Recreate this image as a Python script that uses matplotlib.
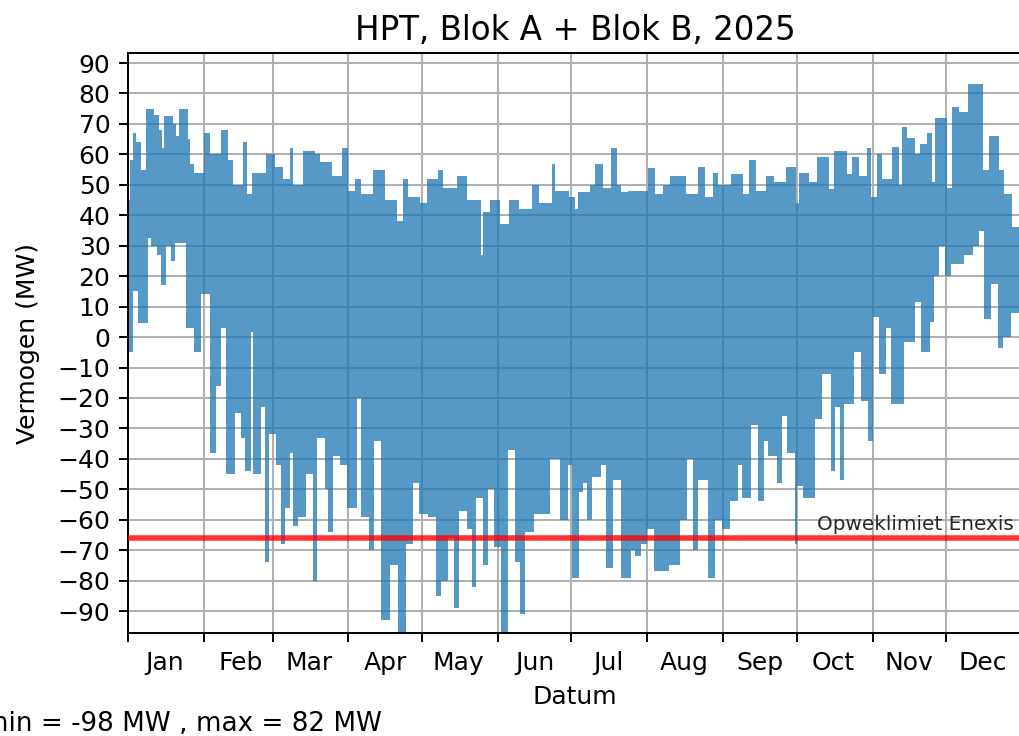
import datetime as dt
import numpy as np
import matplotlib
matplotlib.use("Agg")
import matplotlib.pyplot as plt
import matplotlib.dates as mdates
from matplotlib.ticker import NullFormatter

# bovenkant van het signaal: (dag van het jaar, MW)
hi_day = [0, 1, 2, 3.3, 5.3, 7.4, 10.8, 12.8, 13.8, 14.9, 18.3, 19.5, 21, 24.4, 25.5, 27.1,
          31, 33.3, 36.7, 38.1, 40.8, 42.8, 46.9, 48.5, 50.5, 56.5, 59.9, 63.3, 66, 67.4,
          71.5, 76.2, 78.3, 83.1, 87.2, 89.9, 92.6, 95.3, 100.1, 104.9, 109.7, 112.4, 114.4,
          119.2, 121.9, 126.7, 128.8, 134.2, 138.3, 144, 144.8, 147.9, 152, 155.4, 159.5,
          164.9, 167.6, 173.1, 174.5, 180, 182.4, 183.8, 188.5, 190.6, 194, 197.4, 199.5,
          201.3, 204, 212.3, 215.2, 218.4, 221.1, 227.9, 232.6, 235.5, 238.7, 240.7, 246.2,
          250.9, 253.6, 256.3, 260.4, 263.8, 268.5, 272.6, 274, 278, 281.4, 286.2, 288.2,
          293.6, 295.7, 298.4, 301.8, 303.4, 305.8, 307.9, 311.9, 314.6, 316, 318, 321.4,
          323.5, 326.2, 328.2, 329.6, 334.3, 336.3, 339.1, 343.1, 349.2, 351.5, 355.5,
          357.5, 360.8]
hi_val = [45, 58, 67, 64, 55, 75, 73, 68, 62, 72.5, 70, 66, 75, 65, 57, 54,
          67, 60, 60, 68, 58, 50, 64, 47, 54, 60, 56, 52, 62, 50,
          61, 60, 57.5, 53, 62, 48, 52, 47, 55, 45, 38, 52, 46,
          44, 52, 55, 49, 53, 45, 27, 41, 45, 37, 45, 42,
          50, 44, 57, 48, 46, 42, 47.5, 50, 57, 49, 62, 50,
          47.5, 48, 55.5, 47, 50, 53, 47, 56, 46, 54, 50, 53.5,
          47, 58, 48, 53, 51, 56, 44, 54, 51, 59, 48.5, 61,
          53.5, 59, 53, 62, 46, 60, 52, 62.5, 50, 69, 65.5, 60,
          63.5, 67, 51, 72, 49, 75.5, 74, 83, 55, 66, 55,
          47, 36]

# onderkant van het signaal
lo_day = [0, 1.9, 4.2, 8, 9.4, 12, 13.5, 15.5, 17.6, 19, 23.7, 27.1, 29.9, 33.3, 36, 38.1,
          40.1, 43.5, 46.2, 47.6, 50.3, 51, 54.4, 55.8, 57.4, 60.6, 62.6, 64, 66, 67.4,
          69.4, 72.8, 75.6, 77.3, 80.3, 81.7, 83.7, 86.5, 89.6, 93.3, 95.3, 98.3, 100.5,
          103.3, 106.9, 110.3, 113.3, 116.2, 118.9, 122.6, 125.8, 127.8, 130.5, 133.3,
          135.3, 138.3, 140.4, 142.1, 144.9, 146.9, 149.6, 152.4, 155.1, 157.8, 159.9,
          161.9, 165.6, 172.4, 176.5, 179.7, 181.1, 184.1, 185.8, 187.2, 189.5, 193.3,
          195, 198, 201.2, 205.2, 206.8, 209.3, 212, 214.7, 220.7, 225.2, 228.3, 230.8,
          232.9, 237, 239.7, 242.4, 245.9, 249.2, 250.5, 254.3, 257.4, 259.5, 261.5, 264.9,
          266.9, 269.2, 272.2, 273.3, 275.7, 280.3, 283.2, 286.9, 288.6, 290.6, 292.5,
          296.6, 299.3, 302, 304, 306.8, 309.6, 311.7, 317, 321.2, 323.7, 327.3, 328.9,
          331.3, 333.4, 336.1, 341.5, 344.9, 347.5, 349.6, 352.3, 355.1, 357.1, 360.5]
lo_val = [-5, 15, 4.5, 32.5, 30, 27, 17, 30, 25, 31, 3, -5, 14, -38, -16, 3,
          -45, -25, -33, -44, 1.5, -45, -23, -74, -32, -42, -68, -56, -38, -62,
          -59, -45, -80, -33, -50, -64, -39, -42, -56, -20, -59, -70, -34,
          -93, -75, -99, -68, -48, -58, -59, -85, -80, -66, -89,
          -57, -63, -82, -53, -75, -50, -69, -97, -37, -74, -91,
          -64, -58, -40, -60, -42, -79, -51, -48, -60, -46, -42,
          -76, -47, -79, -70, -72, -68, -63, -77, -75, -60, -40, -70,
          -47, -79, -60, -63, -54, -42, -53, -29, -54, -34, -39, -48,
          -26, -38, -68, -49, -53, -27, -12, -44, -23, -47, -22,
          -5, -21, -34, 6.5, -12, 3, -22, -1.5, 11.5, -5, 5, 20,
          30, 20, 24, 27, 30, 35, 6, 17.5, -3.5, 0, 8]

opwek_limiet = -66
p_min, p_max = -98, 82


def trap(dagen, waarden, eind):
    x = np.repeat(np.append(np.asarray(dagen, float), eind), 2)[1:-1]
    y = np.repeat(np.asarray(waarden, float), 2)
    return x, y


start = mdates.date2num(dt.datetime(2025, 1, 1))
eind = mdates.date2num(dt.datetime(2026, 1, 1))

xh, yh = trap(hi_day, hi_val, 365)
xl, yl = trap(lo_day, lo_val, 365)
px = start + np.concatenate([xh, xl[::-1]])
py = np.concatenate([yh, yl[::-1]])

fig = plt.figure(figsize=(1019 / 180, 736 / 180), dpi=180)
ax = fig.add_axes([128 / 1019, 1 - 633 / 736, 894 / 1019, 580 / 736])

ax.fill(px, py, color='tab:blue', alpha=0.75, lw=0, zorder=2)
ax.axhline(opwek_limiet, color='red', lw=2.2, alpha=0.8, zorder=3)
ax.text(start + 281.5, -63.3, 'Opweklimiet Enexis', fontsize=8, color='0.15',
        va='baseline', zorder=4)

ax.set_xlim(start, eind)
ax.set_ylim(-97.2, 93.3)
ax.set_yticks(np.arange(-90, 91, 10))
ax.xaxis.set_major_locator(mdates.MonthLocator())
ax.xaxis.set_minor_locator(mdates.MonthLocator(bymonthday=16))
ax.xaxis.set_major_formatter(NullFormatter())
ax.xaxis.set_minor_formatter(mdates.DateFormatter('%b'))
ax.tick_params(axis='x', which='minor', length=0, pad=7.3)
ax.grid(True)

ax.set_title('HPT, Blok A + Blok B, 2025', fontsize=13, pad=5)
ax.set_xlabel('Datum')
ax.set_ylabel('Vermogen (MW)', labelpad=7)
fig.text(-17 / 1019, 5 / 736, f'min = {p_min} MW , max = {p_max} MW', fontsize=10.5,
         va='baseline')

fig.savefig('out.png', dpi=180)
